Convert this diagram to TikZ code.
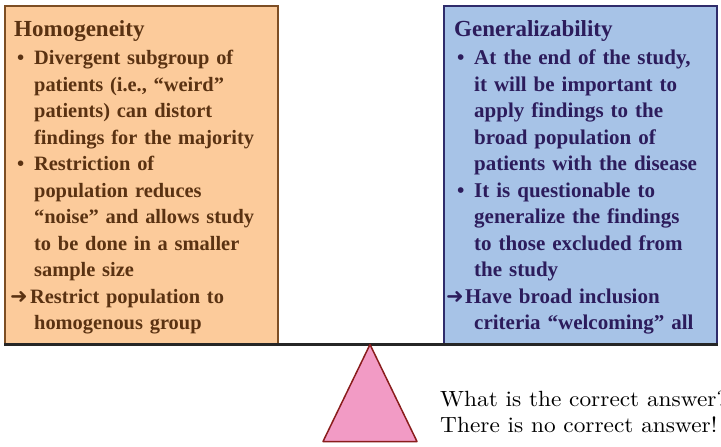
\documentclass[tikz,border=0pt]{standalone}
\usepackage{fontspec}
\newfontfamily\boxfont{Liberation Serif}
\newfontfamily\arrowfont{DejaVu Sans}
\newfontfamily\answerfont[FakeStretch=1.06, Extension=.otf]{lmroman10-regular}
\usetikzlibrary{positioning}

\definecolor{homogfill}{HTML}{FCCB9B}
\definecolor{homogline}{HTML}{7D4E24}
\definecolor{homogtext}{HTML}{5A3212}
\definecolor{generalfill}{HTML}{A7C3E7}
\definecolor{generalline}{HTML}{2F2C6B}
\definecolor{generaltext}{HTML}{2C1C5C}
\definecolor{fulcrumfill}{HTML}{F29BC5}
\definecolor{fulcrumline}{HTML}{8A1D1D}

% list marks with hanging indent
\newcommand{\bul}{\par\hangindent=20pt\hangafter=1\noindent\makebox[20pt][l]{\hspace*{3pt}•}}
\newcommand{\arr}[2][-4pt]{\par\hangindent=20pt\hangafter=1\noindent\hspace*{#1}\makebox[17pt][l]{\arrowfont\fontsize{21}{21}\selectfont ➜}\hspace{#2}}
\newcommand{\headline}[1]{{\fontsize{23}{26.5}\selectfont #1}\par\vspace{2pt}}

\tikzset{
	panel/.style={
		rectangle,
		line width=1.5pt,
		minimum width=273pt,
		minimum height=338pt,
		inner sep=0pt,
		anchor=north west
	},
	paneltext/.style={
		text width=265pt,
		align=left,
		inner sep=0pt,
		font=\boxfont\bfseries\fontsize{#1}{26.5}\selectfont
	},
	paneltext/.default=21,
	beam/.style={
		line width=3pt,
		black!85
	},
	fulcrum/.style={
		draw=fulcrumline,
		fill=fulcrumfill,
		line width=1.5pt,
		line join=round
	},
	answer/.style={
		align=left,
		inner sep=0pt,
		font=\answerfont\fontsize{22}{26}\selectfont
	}
}

\begin{document}
\begin{tikzpicture}[x=1pt, y=-1pt]
		\useasboundingbox (0,0) rectangle (721,447);
		
		% panels
		\node (homog)   [panel, draw=homogline, fill=homogfill]     at (4,5)   {};
		\node (general) [panel, draw=generalline, fill=generalfill] at (443,5) {};
		
		% panel texts
		\node (homogtext) [paneltext=20.4, text=homogtext, below right=15pt and 10pt of homog.north west] {%
			\headline{Homogeneity}%
			\bul Divergent subgroup of\newline patients (i.e., “weird”\newline patients) can distort\newline findings for the majority
			\bul Restriction of\newline population reduces\newline “noise” and allows study\newline to be done in a smaller\newline sample size
			\arr{3pt}Restrict population to\newline homogenous group\par};
		\node (generaltext) [paneltext, text=generaltext, below right=15pt and 11pt of general.north west] {%
			\headline{Generalizability}%
			\bul At the end of the study,\newline it will be important to\newline apply findings to the\newline broad population of\newline patients with the disease
			\bul It is questionable to\newline generalize the findings\newline to those excluded from\newline the study
			\arr[-8pt]{2pt}Have broad inclusion\newline criteria “welcoming” all\par};
		
		% beam and fulcrum
		\coordinate (pivot) at (370,344.5);
		\draw [beam] (homog.south west |- pivot) -- (general.south east |- pivot);
		\draw [fulcrum] (pivot) -- ++(-47,97) -- ++(94,0) -- cycle;
		
		% answer
		\node (question) [answer, anchor=north west] at (440,391) {What is the correct answer?\\ There is no correct answer!};
		
\end{tikzpicture}
\end{document}
